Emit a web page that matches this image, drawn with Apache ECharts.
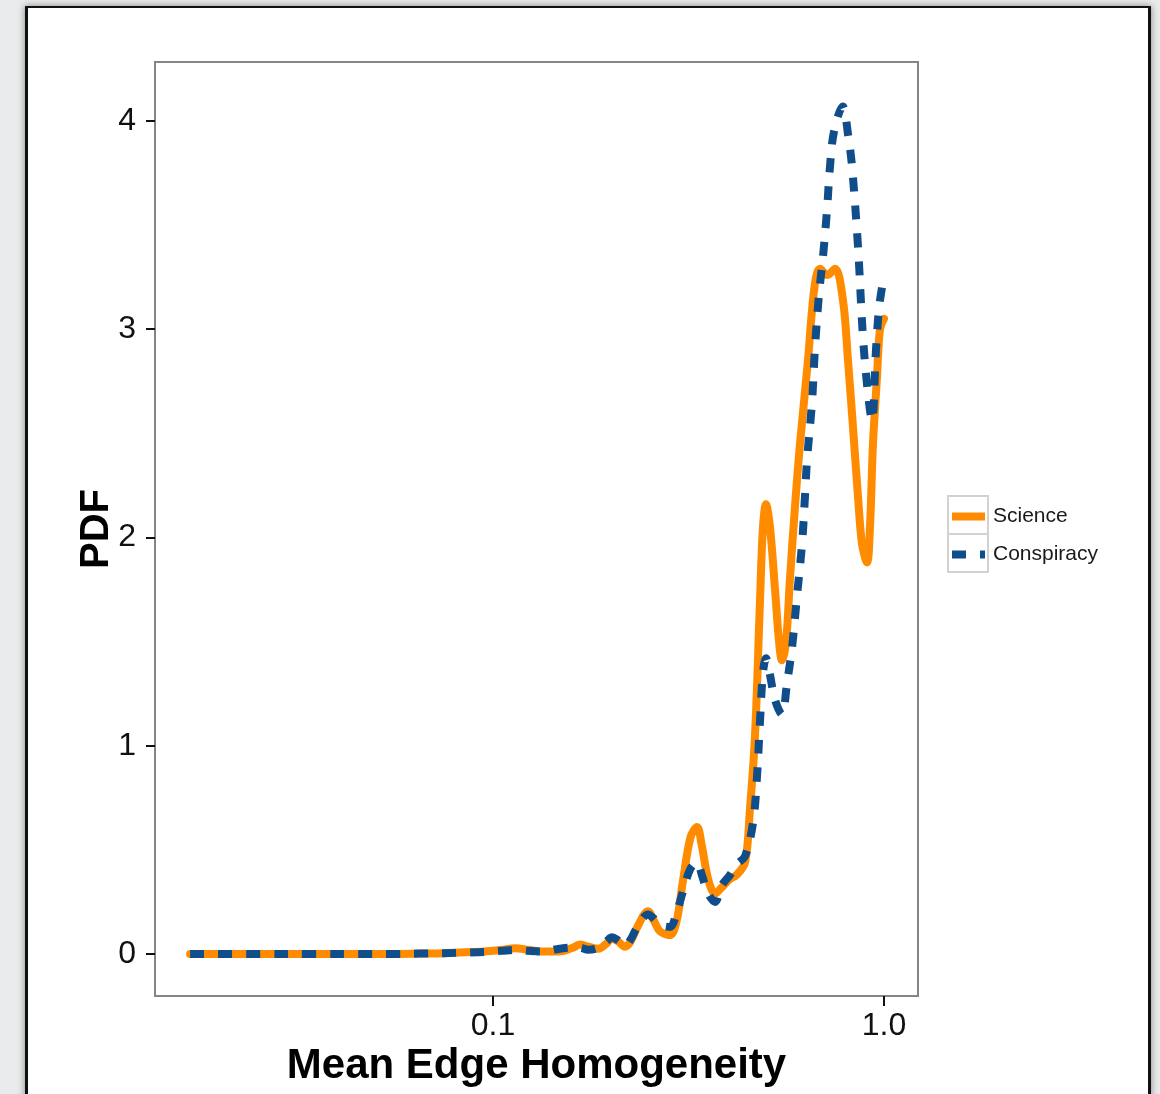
<!DOCTYPE html>
<html>
<head>
<meta charset="utf-8">
<script src="https://cdn.jsdelivr.net/npm/echarts@6/dist/echarts.min.js"></script>
<style>
  html, body { margin: 0; padding: 0; }
  body { width: 1160px; height: 1094px; background: #e9ebed; position: relative; overflow: hidden; }
  .card {
    position: absolute; left: 25px; top: 6px; width: 1120px; height: 1200px;
    background: #fff; border: 3px solid #111; border-top-width: 2px;
    box-shadow: 0 0 7px rgba(0, 0, 0, 0.45);
  }
  #chart { position: absolute; left: 0; top: 0; width: 1160px; height: 1094px; }
</style>
</head>
<body>
<div class="card"></div>
<div id="chart"></div>
<script>
// axis ticks
var xTicks = [0.1, 1];
var yTicks = [0, 1, 2, 3, 4];

// Science density (x = mean edge homogeneity, y = PDF)
var sciX = [0.0168, 0.025, 0.035, 0.045, 0.055, 0.065, 0.075, 0.085, 0.095, 0.105,
  0.114, 0.123, 0.133, 0.148, 0.160, 0.167, 0.175, 0.186, 0.195, 0.2015,
  0.209, 0.2176, 0.225, 0.234, 0.2492, 0.258, 0.267, 0.2836, 0.295, 0.306,
  0.320, 0.3325, 0.342, 0.355, 0.3697, 0.385, 0.404, 0.420, 0.4412, 0.4543,
  0.4679, 0.4819, 0.4903, 0.4991, 0.511, 0.5264, 0.539, 0.5484, 0.5617, 0.5747,
  0.5922, 0.6098, 0.6391, 0.6545, 0.6701, 0.6861, 0.7148, 0.7495, 0.7854, 0.8091,
  0.8331, 0.8579, 0.8785, 0.9049, 0.9209, 0.9373, 0.9596, 0.9768, 1.0];
var sciY = [0, 0, 0, 0, 0, 0.002, 0.004, 0.008, 0.012, 0.02,
  0.028, 0.02, 0.012, 0.012, 0.03, 0.045, 0.035, 0.025, 0.05, 0.075,
  0.06, 0.035, 0.06, 0.13, 0.205, 0.16, 0.11, 0.09, 0.16, 0.35,
  0.56, 0.61, 0.52, 0.36, 0.29, 0.32, 0.36, 0.38, 0.44, 0.70,
  1.05, 1.7, 2.05, 2.16, 2.05, 1.75, 1.5, 1.41, 1.5, 1.8,
  2.15, 2.45, 2.85, 3.09, 3.25, 3.29, 3.26, 3.29, 3.14, 2.85,
  2.53, 2.2, 1.97, 1.88, 2.05, 2.45, 2.77, 3.0, 3.05];

// Conspiracy density
var conX = [0.0168, 0.025, 0.035, 0.045, 0.055, 0.065, 0.075, 0.085, 0.095, 0.105,
  0.114, 0.123, 0.133, 0.148, 0.158, 0.167, 0.175, 0.186, 0.195, 0.2015,
  0.209, 0.2176, 0.225, 0.234, 0.2492, 0.258, 0.267, 0.2836, 0.295, 0.306,
  0.320, 0.3325, 0.342, 0.355, 0.3697, 0.385, 0.404, 0.420, 0.4412, 0.4624,
  0.4733, 0.4819, 0.4903, 0.4991, 0.511, 0.5264, 0.5484, 0.5648, 0.5817, 0.5992,
  0.6172, 0.6281, 0.6355, 0.6545, 0.6661, 0.6822, 0.6983, 0.7148, 0.7275, 0.7452,
  0.784, 0.810, 0.8285, 0.8579, 0.8838, 0.9102, 0.9317, 0.9539, 0.971, 0.9883];
var conY = [0, 0, 0, 0, 0, 0.002, 0.004, 0.007, 0.01, 0.015,
  0.02, 0.015, 0.012, 0.025, 0.03, 0.03, 0.02, 0.03, 0.06, 0.08,
  0.065, 0.04, 0.07, 0.13, 0.19, 0.17, 0.14, 0.13, 0.2, 0.3,
  0.41, 0.44, 0.38, 0.29, 0.25, 0.33, 0.38, 0.43, 0.47, 0.63,
  0.85, 1.12, 1.35, 1.42, 1.34, 1.22, 1.15, 1.3, 1.47, 1.72,
  1.97, 2.2, 2.37, 2.65, 2.91, 3.17, 3.35, 3.57, 3.78, 3.95,
  4.07, 3.93, 3.78, 3.4, 2.96, 2.69, 2.56, 2.9, 3.1, 3.2];

function pairs(xs, ys) {
  return xs.map(function (x, i) { return [x, ys[i]]; });
}

var orange = '#ff8c00';
var blue = '#104e8b';
var dash = [14, 14];

var chart = echarts.init(document.getElementById('chart'), null, { renderer: 'canvas' });
chart.setOption({
  backgroundColor: 'transparent',
  animation: false,
  textStyle: { fontFamily: '"Liberation Sans", Arial, sans-serif' },
  grid: {
    left: 155, right: 242, top: 62, bottom: 98,
    show: true, borderColor: '#858585', borderWidth: 2
  },
  xAxis: {
    type: 'log', logBase: 10,
    min: 0.013662, max: 1.2218,
    name: 'Mean Edge Homogeneity',
    nameLocation: 'middle', nameGap: 49, nameMoveOverlap: false,
    nameTextStyle: { fontSize: 42, fontWeight: 'bold', color: '#000' },
    axisLine: { show: false, onZero: false },
    axisTick: { show: true, length: 10, customValues: xTicks, lineStyle: { color: '#111', width: 2 } },
    axisLabel: {
      customValues: xTicks, margin: 14, fontSize: 32, color: '#111',
      formatter: function (v) { return Math.abs(v - 1) < 1e-6 ? '1.0' : String(v); }
    },
    splitLine: { show: false }
  },
  yAxis: {
    type: 'value',
    min: -0.2017, max: 4.2833,
    name: 'PDF',
    nameLocation: 'middle', nameGap: 38, nameMoveOverlap: false,
    nameTextStyle: { fontSize: 40, fontWeight: 'bold', color: '#000' },
    axisLine: { show: false, onZero: false },
    axisTick: { show: true, length: 9, customValues: yTicks, lineStyle: { color: '#111', width: 2 } },
    axisLabel: { customValues: yTicks, margin: 19, fontSize: 32, color: '#111' },
    splitLine: { show: false }
  },
  legend: {
    orient: 'vertical', left: 952, top: 506,
    padding: 0, itemGap: 17, itemWidth: 33, itemHeight: 8,
    textStyle: { fontSize: 21, color: '#1a1a1a', padding: [0, 0, 0, 3] },
    data: [
      { name: 'Science', icon: 'path://M0,0L33,0L33,8L0,8Z', itemStyle: { color: orange } },
      { name: 'Conspiracy', icon: 'path://M0,0L14,0L14,8L0,8ZM28,0L33,0L33,8L28,8Z', itemStyle: { color: blue } }
    ],
    z: 4
  },
  graphic: [
    { type: 'rect', shape: { x: 948, y: 496, width: 40, height: 38 },
      style: { fill: 'none', stroke: '#d2d2ce', lineWidth: 2 }, z: 1 },
    { type: 'rect', shape: { x: 948, y: 534, width: 40, height: 38 },
      style: { fill: 'none', stroke: '#d2d2ce', lineWidth: 2 }, z: 1 }
  ],
  series: [
    {
      name: 'Science', type: 'line', data: pairs(sciX, sciY),
      smooth: 0.35, symbol: 'none', showSymbol: false,
      lineStyle: { color: orange, width: 8, cap: 'round', join: 'round' },
      itemStyle: { color: orange }
    },
    {
      name: 'Conspiracy', type: 'line', data: pairs(conX, conY),
      smooth: 0.35, symbol: 'none', showSymbol: false,
      lineStyle: { color: blue, width: 8, type: dash, cap: 'butt', join: 'round' },
      itemStyle: { color: blue }
    }
  ]
});
</script>
</body>
</html>
